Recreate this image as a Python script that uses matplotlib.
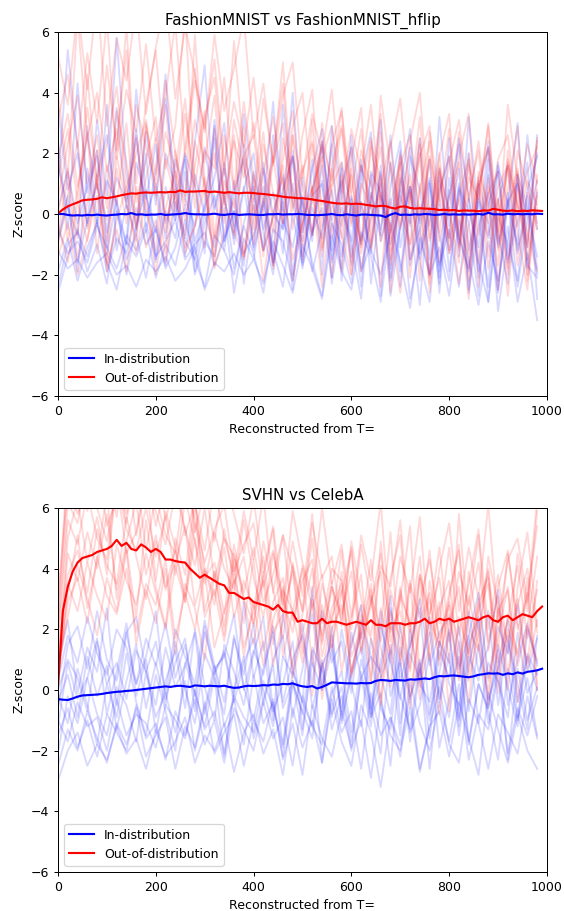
import numpy as np
import matplotlib
matplotlib.use("Agg")
import matplotlib.pyplot as plt

#####################
# DATA
#####################

T_MEAN = np.arange(0, 1000, 10)   # 100 points for the mean curves
T_RUN = np.arange(0, 1000, 20)    # 50 points for the faint per-sample curves

TITLES = ["FashionMNIST vs FashionMNIST_hflip", "SVHN vs CelebA"]
LABELS = ["In-distribution", "Out-of-distribution"]

# --- panel 1 ---
TOP_ID_MEAN = [
    0.0, 0.0, -0.03, -0.05, -0.04, -0.05, -0.03, -0.04, -0.02, -0.04,
    -0.05, -0.03, -0.02, 0.0, -0.01, 0.03, -0.02, -0.01, -0.03, -0.02,
    -0.02, 0.0, -0.03, -0.02, -0.01, 0.0, 0.03, 0.0, -0.01, -0.01,
    -0.02, -0.01, 0.01, -0.02, -0.03, -0.01, 0.0, -0.03, -0.02, -0.01,
    -0.02, -0.03, -0.03, -0.01, -0.01, 0.0, -0.02, -0.01, -0.01, 0.0,
    -0.01, -0.03, -0.03, -0.04, -0.03, -0.02, 0.0, -0.03, -0.04, -0.01,
    -0.03, -0.05, -0.02, -0.02, -0.03, -0.04, -0.05, -0.1, -0.02, 0.03,
    -0.03, -0.02, -0.03, -0.01, -0.02, 0.0, -0.01, -0.03, -0.02, 0.0,
    -0.02, -0.01, -0.02, -0.01, -0.02, -0.01, 0.0, -0.02, 0.04, -0.01,
    -0.01, -0.02, 0.01, -0.01, 0.0, -0.01, 0.0, -0.01, 0.01, 0.0,
]
TOP_OOD_MEAN = [
    0.02, 0.15, 0.25, 0.32, 0.38, 0.45, 0.47, 0.48, 0.50, 0.55,
    0.52, 0.55, 0.58, 0.62, 0.65, 0.68, 0.67, 0.70, 0.71, 0.70,
    0.71, 0.72, 0.71, 0.73, 0.72, 0.78, 0.73, 0.74, 0.74, 0.75,
    0.76, 0.72, 0.74, 0.72, 0.70, 0.72, 0.70, 0.68, 0.70, 0.70,
    0.69, 0.67, 0.66, 0.64, 0.62, 0.60, 0.57, 0.55, 0.54, 0.52,
    0.52, 0.50, 0.48, 0.45, 0.43, 0.40, 0.37, 0.35, 0.34, 0.35,
    0.33, 0.34, 0.33, 0.30, 0.28, 0.25, 0.27, 0.26, 0.21, 0.18,
    0.24, 0.25, 0.20, 0.18, 0.19, 0.18, 0.17, 0.16, 0.13, 0.14,
    0.12, 0.13, 0.10, 0.12, 0.11, 0.11, 0.09, 0.12, 0.11, 0.17,
    0.14, 0.11, 0.10, 0.12, 0.09, 0.11, 0.10, 0.12, 0.11, 0.10,
]
TOP_ID_RUNS = [
    [-1.2, -1.8, -1.5, -2.1, -1.6, -1.3, -2.0, -1.7, -2.4, -1.5,
     -1.9, -1.4, -2.2, -1.8, -1.1, -2.5, -1.6, -1.9, -1.3, -2.0,
     -1.5, -2.3, -0.9, -1.7, -2.6, -1.0, -1.8, -2.8, -0.7, -1.9,
     -2.5, -0.6, -1.4, -2.9, -0.3, -1.6, -3.1, -0.8, -2.0, -1.1,
     -2.7, -0.2, -1.5, -3.0, -0.9, -2.2, -0.4, -2.9, -1.3, -3.5],
    [-0.5, -1.3, -0.9, -1.6, -0.4, -1.1, -1.8, -0.7, -1.2, -0.3,
     -1.4, -0.9, -0.2, -1.5, -1.0, -0.6, -1.7, -0.8, 0.1, -1.3,
     -0.7, 0.4, -1.6, -0.2, -1.1, 0.6, -1.9, -0.5, 0.8, -1.4,
     0.3, -1.8, -0.1, 1.0, -2.2, -0.4, 0.9, -1.5, 0.2, -2.3,
     1.2, -0.8, -1.9, 0.5, -0.3, -2.6, 0.7, -1.2, 0.1, -2.0],
    [1.0, 5.4, 2.2, -0.3, 3.1, 0.6, 5.8, 1.4, -0.5, 2.7,
     0.3, 3.8, 1.1, -0.8, 2.4, 4.9, 0.2, 1.7, -0.4, 3.3,
     0.8, -1.2, 2.6, 0.1, 4.0, -0.6, 1.5, 2.8, -1.5, 0.9,
     2.2, -0.9, 0.4, 3.1, -1.8, 1.2, -0.3, 2.5, -2.0, 0.7,
     1.9, -1.4, 3.2, -0.1, -2.4, 1.6, 0.3, -1.0, 2.6, -0.5],
    [-2.4, -1.0, -0.6, -1.4, -0.2, -1.9, -0.8, -1.3, 0.2, -1.0,
     -0.5, -1.7, 0.4, -0.9, -1.5, 0.0, -1.1, 0.7, -1.8, -0.3,
     0.9, -1.2, -0.1, 1.3, -2.0, 0.5, -0.7, 1.6, -1.6, 0.2,
     -0.9, 1.8, -2.3, 0.6, -0.4, 2.1, -1.7, 0.0, 1.2, -2.6,
     0.8, -1.0, 2.0, -2.1, 0.3, 1.4, -1.5, -0.2, 1.7, -2.8],
    [0.2, 1.4, -0.3, 0.9, 2.1, -0.6, 1.2, 0.4, 2.5, -0.1,
     1.0, -0.8, 1.8, 0.5, -0.4, 2.2, 0.1, 1.5, -1.0, 0.8,
     2.0, -0.5, 0.7, -1.3, 1.9, 0.3, -0.9, 2.4, -0.2, 1.1,
     -1.4, 1.6, 0.2, -0.7, 2.6, -1.1, 0.9, -0.3, 1.8, -1.9,
     0.6, 2.3, -1.2, 0.4, -0.8, 1.7, -1.6, 1.0, 0.0, 2.0],
    [-0.8, 0.6, -1.9, 1.5, -0.4, 3.6, -1.2, 0.3, -0.7, 2.0,
     -1.6, 0.9, -0.2, 1.8, -1.3, 0.4, 2.9, -0.9, 0.1, -1.7,
     1.4, -0.6, -2.0, 0.8, 1.9, -1.4, 0.2, -0.8, 2.3, -2.2,
     0.5, -1.0, 1.3, -2.7, 0.9, 2.4, -1.5, -0.5, 1.1, -2.1,
     2.5, -0.7, -1.8, 1.0, -2.9, 0.4, 1.6, -1.3, 0.8, 1.9],
    [3.5, 0.8, 2.0, -0.4, 1.3, 2.6, 0.1, -1.0, 1.7, 0.5,
     2.3, -0.3, 0.6, 1.9, -0.9, 0.2, 1.2, 3.0, -0.6, 0.9,
     -1.1, 1.5, 0.0, -0.5, 2.1, -1.8, 0.6, 1.0, -1.2, 1.7,
     0.2, -2.4, 1.4, 0.7, -1.0, 0.3, 2.2, -1.3, -0.2, 1.5,
     -1.9, 0.9, 0.1, -1.1, 2.4, -0.6, -2.3, 1.3, 0.2, -1.4],
    [-1.9, -0.8, -2.2, -1.1, -0.3, -1.6, -2.5, -0.9, -1.4, -0.5,
     -2.1, -1.0, -1.7, -0.2, -1.5, -2.4, -0.7, -1.2, -2.0, -0.4,
     -1.3, -2.6, -0.5, -0.9, -2.2, 0.1, -1.6, -2.7, -0.3, -1.0,
     -2.3, 0.4, -1.2, -2.0, -0.6, 0.8, -2.8, -1.1, 0.2, -1.7,
     -0.5, -2.4, 0.5, -1.6, -2.9, -0.1, -1.0, -2.2, 0.6, -1.8],
    [2.4, -0.5, 4.3, 0.7, 1.9, -1.1, 3.5, 0.2, 2.8, -0.6,
     1.5, 4.6, -0.2, 2.0, 0.9, -1.3, 3.1, 0.5, -0.8, 2.3,
     0.0, 1.7, -1.6, 3.6, 0.4, -0.9, 1.8, -2.0, 2.9, 0.6,
     -1.7, 1.2, 2.7, -0.9, 0.5, -2.4, 1.9, 0.8, -1.5, 3.2,
     -0.4, 1.5, -2.6, 0.9, 2.2, -1.0, 0.3, 3.0, -1.8, 0.7],
    [-0.9, 0.3, -1.6, -0.2, 1.0, -1.3, 0.5, -2.0, -0.4, 0.8,
     -1.5, 0.1, -0.8, 1.4, -1.9, -0.3, 0.6, -1.2, 1.1, -2.3,
     -0.1, 0.9, -1.7, 0.4, -2.5, 1.2, -0.6, 0.2, -2.1, 1.5,
     -1.0, -2.8, 0.7, -0.5, 1.7, -1.9, 0.0, -3.0, 1.0, -0.7,
     -2.2, 0.8, -0.3, -2.7, 1.3, -1.1, 0.5, -2.4, -0.2, 1.1],
    [1.6, 0.2, -0.7, 2.9, -0.3, 1.1, 0.4, -1.0, 4.1, 0.6,
     -0.6, 2.0, 0.9, -1.4, 1.3, 0.0, 2.5, -0.9, 0.7, 1.8,
     -1.2, 0.3, 3.7, -0.5, 1.0, -1.6, 0.8, 2.3, -0.3, -1.8,
     2.6, 0.1, -1.3, 1.6, -2.1, 0.9, 2.8, -0.6, -2.0, 1.2,
     -0.8, 2.5, 0.6, -1.9, 1.8, -2.5, 0.4, 1.0, -1.1, 2.6],
    [-2.6, -1.4, -0.5, -1.9, -1.0, -2.3, 0.1, -1.5, -0.7, -2.1,
     -0.4, -1.8, -1.1, 0.3, -2.0, -0.9, -1.4, 0.2, -2.6, -0.8,
     -1.5, 0.5, -1.2, -2.4, 0.0, -1.7, -0.6, 1.1, -2.3, -0.2,
     0.6, -1.9, -1.0, 1.4, -2.7, -0.5, 0.9, -1.6, -2.9, 0.3,
     -1.2, 1.0, -2.5, -0.4, 0.7, -3.2, -0.9, 1.3, -1.7, -2.1],
]
TOP_OOD_RUNS = [
    [3.1, 4.6, 2.2, 5.3, 3.0, 6.4, 1.8, 4.1, 2.7, 5.6,
     2.4, 3.9, 6.3, 1.9, 4.4, 2.8, 5.1, 1.6, 3.7, 2.2,
     4.5, 1.3, 3.2, 0.8, 2.9, 4.0, 0.6, 2.4, 1.1, 3.5,
     -0.4, 2.1, 0.9, 3.3, -0.8, 1.6, 2.6, -0.2, 1.9, 0.3,
     2.8, -1.1, 1.2, 0.5, 3.0, -0.6, 1.7, 0.2, 2.3, 1.0],
    [-0.6, 1.2, -1.5, 0.4, 2.1, -0.9, 1.5, -0.3, 2.6, 0.1,
     -1.2, 1.8, 0.5, -0.7, 2.4, 0.9, -1.4, 1.1, 0.2, 2.9,
     -0.5, 1.4, -1.8, 0.7, 1.9, -1.0, 0.4, 2.2, -0.8, 1.3,
     -1.6, 0.8, 2.5, -0.9, 0.3, 1.7, -2.1, 1.0, -0.4, 2.0,
     -1.3, 0.6, 1.8, -2.4, 0.9, -0.2, 1.5, -1.7, 0.7, -0.5],
    [1.2, 2.8, 0.4, 3.5, 1.1, 2.3, 4.2, 0.9, 2.0, 3.1,
     0.6, 2.7, 1.4, 3.8, 0.2, 2.1, 1.5, 4.5, 0.8, 1.9,
     2.6, 0.1, 1.7, 3.0, -0.5, 1.4, 2.4, 0.3, 1.0, 2.8,
     -0.3, 1.6, 0.5, 2.2, -1.2, 1.3, 0.2, 2.5, -0.9, 0.8,
     1.9, -0.7, 0.6, 2.1, -1.4, 0.9, 1.6, -0.4, 1.1, 0.3],
    [5.2, 3.6, 6.8, 4.1, 7.3, 2.9, 5.8, 4.4, 6.9, 3.3,
     5.5, 7.1, 3.8, 6.2, 4.6, 2.7, 5.9, 3.4, 4.8, 6.5,
     2.5, 4.3, 1.6, 3.9, 5.0, 1.2, 3.3, 2.0, 4.1, 0.7,
     2.8, 1.4, 3.6, 0.2, 2.2, 3.8, 0.5, 1.9, 2.9, -0.6,
     1.7, 3.1, 0.4, 2.4, -0.3, 1.8, 2.6, 0.0, 1.4, 2.2],
    [-1.4, -0.3, -2.0, -0.8, 0.6, -1.7, -0.5, -1.9, 0.9, -1.1,
     -0.2, -1.6, 0.8, -1.3, -0.4, 1.2, -1.8, -0.6, 0.5, -1.5,
     0.3, -1.2, -0.1, 1.6, -2.2, -0.3, 0.9, -1.4, 1.5, -0.7,
     -2.0, 0.4, -1.1, 1.3, -0.5, -2.6, 0.7, -0.9, 1.8, -1.6,
     0.2, -2.3, -0.4, 1.1, -1.8, 0.5, -2.7, 0.8, -0.6, -1.9],
    [0.5, 2.3, 3.9, 1.0, 2.6, 0.2, 3.4, 1.7, -0.4, 2.9,
     1.3, 3.6, 0.1, 2.2, 4.8, 0.7, 2.0, -0.3, 3.1, 1.5,
     0.4, 2.7, -0.6, 1.8, 3.4, 0.0, 2.3, -1.1, 1.6, 2.9,
     0.6, -1.0, 2.4, 1.1, -1.7, 2.0, 0.4, 3.2, -0.8, 1.5,
     0.0, 2.7, -1.3, 1.2, 2.2, -0.9, 0.8, 2.9, -1.5, 0.6],
    [0.0, 1.5, -0.8, 4.6, 0.9, -0.2, 2.3, 5.4, 0.4, 1.8,
     3.2, -0.6, 1.4, 0.3, 5.9, 1.1, -0.9, 2.6, 0.8, 3.7,
     1.2, -1.4, 2.0, 4.3, 0.1, 1.6, -0.7, 3.0, 0.6, -1.9,
     1.8, 3.5, -1.2, 0.9, 2.4, -0.4, 1.3, -2.2, 2.7, 0.5,
     -0.8, 1.9, 3.3, -1.6, 0.7, 1.4, -2.0, 2.1, 0.9, -0.3],
    [2.0, -0.9, 0.8, 2.7, -1.3, 1.6, 0.3, 3.0, -0.5, 1.2,
     2.5, -0.2, 0.9, 3.3, 1.0, -1.1, 2.8, 0.4, -0.7, 1.9,
     -1.0, 2.3, 0.7, -0.3, 2.6, -1.5, 0.8, 1.9, -2.1, 0.5,
     2.2, -1.3, 0.6, -2.4, 1.7, 0.1, -1.0, 2.0, -2.6, 1.1,
     -0.9, 0.5, -2.2, 1.4, 0.3, -1.7, 2.1, -0.6, -2.5, 1.3],
    [4.0, 1.2, 6.5, 2.5, 0.8, 4.9, 2.1, 6.2, 1.0, 3.6,
     5.4, 1.5, 2.9, 6.6, 0.9, 3.2, 4.5, 1.3, 5.7, 2.0,
     0.5, 3.8, 1.7, 5.0, 0.2, 2.6, 4.1, -0.4, 2.3, 3.4,
     0.7, 2.8, -0.9, 3.9, 1.5, -0.5, 2.4, 4.0, 0.0, 1.9,
     3.3, -1.2, 1.6, 0.4, 2.9, -0.8, 3.6, 1.1, -1.0, 2.5],
    [-1.0, 0.6, 2.4, -0.5, 1.1, -1.6, 1.9, 0.3, -0.9, 3.0,
     0.7, -1.3, 2.1, -0.2, 1.6, 3.4, -0.8, 0.5, 2.6, -1.4,
     1.3, 0.0, -1.7, 2.5, 0.8, -0.6, 3.1, -1.2, 0.9, 1.7,
     -2.0, 1.0, 0.2, 2.7, -1.5, 0.6, -0.4, 2.3, -2.3, 1.4,
     0.1, -1.6, 2.0, -0.7, 1.2, -2.5, 1.8, 0.3, -1.1, 2.4],
    [1.8, 3.3, 0.9, 2.5, 4.0, 1.4, 2.8, 0.5, 3.6, 2.2,
     1.0, 4.4, 2.0, 0.6, 3.1, 1.7, 3.9, 0.3, 2.4, 1.2,
     3.0, 0.4, 1.9, -0.3, 2.6, 0.9, -0.7, 1.8, 2.9, -0.4,
     1.3, -1.1, 2.2, 0.5, -0.6, 1.9, -1.5, 0.8, 2.4, -0.9,
     0.6, 1.7, -1.8, 0.9, 2.1, -1.2, 0.2, 1.5, -2.0, 0.8],
    [-0.3, -1.6, 0.4, -0.9, 1.3, -1.9, -0.2, 0.9, -1.3, 0.6,
     -2.0, 0.2, 1.4, -1.1, -0.4, 0.8, -1.7, 1.6, -0.6, -1.4,
     0.5, -2.2, 0.1, 1.2, -1.5, -0.3, 0.9, -2.4, 0.4, -0.8,
     1.5, -1.9, -0.1, 0.7, -2.6, 1.1, -1.0, 0.3, -2.1, 1.6,
     -1.3, 0.0, -2.8, 1.2, -0.7, 0.5, -1.8, 1.4, -2.2, 0.2],
]

# --- panel 2 ---
BOT_ID_MEAN = [
    -0.3, -0.32, -0.33, -0.28, -0.22, -0.18, -0.17, -0.16, -0.15, -0.13,
    -0.1, -0.08, -0.06, -0.05, -0.03, -0.02, 0.0, 0.02, 0.04, 0.06,
    0.08, 0.1, 0.12, 0.1, 0.13, 0.14, 0.12, 0.1, 0.15, 0.14,
    0.12, 0.14, 0.13, 0.12, 0.14, 0.1, 0.07, 0.08, 0.12, 0.14,
    0.13, 0.14, 0.16, 0.15, 0.18, 0.17, 0.2, 0.19, 0.22, 0.16,
    0.12, 0.1, 0.13, 0.05, 0.1, 0.17, 0.25, 0.24, 0.23, 0.22,
    0.22, 0.21, 0.23, 0.22, 0.23, 0.3, 0.33, 0.32, 0.3, 0.33,
    0.32, 0.31, 0.35, 0.34, 0.36, 0.38, 0.36, 0.42, 0.46, 0.45,
    0.47, 0.48, 0.46, 0.44, 0.42, 0.45, 0.5, 0.52, 0.55, 0.54,
    0.55, 0.5, 0.55, 0.52, 0.58, 0.54, 0.6, 0.62, 0.65, 0.7,
]
BOT_OOD_MEAN = [
    0.1, 2.6, 3.4, 3.9, 4.2, 4.35, 4.4, 4.45, 4.55, 4.6,
    4.65, 4.75, 4.95, 4.75, 4.85, 4.65, 4.6, 4.8, 4.7, 4.55,
    4.65, 4.55, 4.3, 4.3, 4.25, 4.22, 4.2, 4.0, 3.85, 3.7,
    3.8, 3.7, 3.6, 3.5, 3.45, 3.2, 3.2, 3.1, 3.0, 3.05,
    2.9, 2.85, 2.8, 2.75, 2.65, 2.8, 2.6, 2.55, 2.55, 2.25,
    2.3, 2.25, 2.2, 2.2, 2.35, 2.2, 2.25, 2.25, 2.2, 2.15,
    2.2, 2.25, 2.2, 2.15, 2.3, 2.15, 2.15, 2.1, 2.2, 2.2,
    2.2, 2.15, 2.2, 2.2, 2.25, 2.35, 2.2, 2.25, 2.35, 2.3,
    2.35, 2.25, 2.3, 2.35, 2.4, 2.35, 2.3, 2.4, 2.45, 2.3,
    2.25, 2.4, 2.45, 2.3, 2.4, 2.5, 2.45, 2.4, 2.6, 2.75,
]
BOT_ID_RUNS = [
    [0.3, 1.8, 0.9, 2.4, 1.2, 0.5, 2.0, 1.4, 0.2, 1.7,
     0.8, 2.2, 0.4, 1.5, -0.2, 1.9, 0.7, 1.1, 2.5, 0.0,
     1.3, 0.5, 2.1, -0.4, 1.0, 1.8, 0.2, 2.6, 0.9, 1.6,
     -0.1, 2.3, 1.1, 0.6, 2.7, 0.3, 1.5, 3.0, 0.8, 1.9,
     2.4, 0.7, 1.8, 3.2, 0.4, 2.1, 1.2, 2.8, 0.6, 1.7],
    [-1.5, -0.6, -1.9, -1.0, -2.2, -0.8, -1.4, -2.0, -0.5, -1.6,
     -1.1, -2.3, -0.7, -1.5, -0.3, -1.8, -1.0, -2.4, -0.6, -1.3,
     -2.0, -0.4, -1.6, -0.9, -2.5, -0.2, -1.2, -1.8, 0.1, -1.4,
     -0.7, -2.6, -0.1, -1.5, -0.9, -2.2, 0.3, -1.1, -2.0, -0.4,
     -1.7, 0.2, -2.3, -0.8, -1.3, 0.5, -2.1, -0.6, -1.5, -0.2],
    [-0.4, 0.5, -0.9, 1.1, -0.2, 0.8, -1.3, 0.3, 1.5, -0.6,
     0.9, -0.5, 1.6, 0.0, -1.1, 1.2, 0.4, -0.8, 1.8, 0.1,
     -1.0, 0.7, 1.9, -0.6, 0.3, -1.5, 1.4, 0.6, -0.9, 2.0,
     0.2, -1.2, 1.7, 0.5, -0.8, 2.2, -0.3, 1.0, -1.6, 1.3,
     0.4, 2.1, -0.7, 1.5, -1.1, 0.8, 2.3, -0.4, 1.1, 0.0],
    [-3.0, -2.0, -1.4, -2.5, -1.8, -2.3, -1.2, -2.1, -1.6, -2.6,
     -1.3, -2.2, -1.7, -0.9, -2.4, -1.5, -2.0, -1.1, -2.7, -1.4,
     -0.8, -2.1, -1.3, -2.8, -0.6, -1.9, -1.0, -2.4, -0.3, -1.7,
     -2.5, -0.5, -1.4, -3.2, -0.9, -1.8, -0.2, -2.6, -1.2, -0.7,
     -2.2, -0.4, -1.6, -2.8, -0.1, -1.3, -2.4, -0.8, -2.0, -2.6],
    [0.8, 2.3, -0.1, 1.4, 0.6, 2.7, -0.5, 1.9, 0.2, 1.1,
     2.6, -0.3, 0.9, 1.7, -0.7, 2.1, 0.5, 1.3, -0.2, 2.9,
     0.4, 1.6, -1.0, 2.5, 0.7, -0.4, 3.4, 0.1, 1.8, -0.8,
     1.5, 2.8, -0.6, 0.9, 3.1, -1.1, 1.2, 0.3, 2.4, -0.3,
     1.9, -0.9, 2.6, 0.6, 1.4, 3.3, -0.5, 1.0, 2.2, 0.8],
    [-2.1, -0.2, -1.1, 0.4, -0.8, -1.5, 0.1, -0.5, -1.7, 0.6,
     -0.9, -0.1, -1.4, 0.3, -2.0, -0.6, 0.8, -1.2, -0.3, -1.8,
     0.5, -1.1, -0.4, -2.2, 0.2, -0.7, -1.6, 1.0, -1.3, -0.2,
     -2.0, 0.6, -0.9, -0.1, -2.5, 0.9, -1.4, -0.5, 1.2, -1.9,
     -0.3, 1.1, -1.8, 0.2, -0.7, -2.3, 0.7, -1.0, 0.4, -1.5],
    [0.0, 1.0, 0.4, -0.7, 1.6, 0.2, 0.9, -0.3, 1.3, 0.6,
     -0.5, 1.4, 0.1, 0.8, 1.9, -0.8, 0.6, 1.2, -0.4, 0.9,
     1.7, 0.0, -1.2, 1.1, 0.5, 2.2, -0.6, 0.8, 1.5, -1.0,
     0.7, 1.9, -0.8, 0.4, 1.3, -1.5, 2.0, 0.2, -0.4, 1.6,
     0.9, -1.2, 1.5, 2.4, -0.3, 0.7, 1.8, -0.9, 1.2, 0.5],
    [-1.0, -1.7, -0.4, -1.2, -0.9, -2.0, -0.3, -1.5, -0.8, -1.1,
     -1.9, -0.5, -1.0, -1.6, 0.0, -1.3, -0.7, -2.1, -0.2, -0.9,
     -1.4, 0.3, -0.6, -1.8, 0.6, -0.4, -1.2, 0.9, -0.8, 0.1,
     -1.7, 0.4, 1.1, -0.6, -1.3, 1.4, -0.2, 0.7, -1.0, 1.6,
     0.2, -0.5, 1.8, -1.1, 0.9, 0.3, -0.9, 1.9, -0.1, 0.6],
    [-0.6, 1.5, 2.1, 0.7, 2.6, 1.0, 0.3, 1.9, 2.4, 0.6,
     1.6, -0.1, 2.0, 1.1, 0.2, 2.3, 0.8, -0.4, 1.7, 0.5,
     2.2, -0.5, 1.0, 1.8, -0.9, 0.7, 2.5, 0.0, 1.3, -0.7,
     1.9, 0.4, -1.2, 2.1, 0.9, -0.3, 1.4, 2.7, -0.8, 0.6,
     2.0, -1.0, 1.1, 0.3, 2.6, -0.5, 1.6, 0.2, -1.3, 1.8],
    [-2.5, -1.3, -2.0, -0.7, -1.6, -2.4, -1.1, -1.8, -0.6, -2.2,
     -1.5, -0.9, -2.6, -1.2, -1.9, -0.4, -2.1, -1.4, -0.8, -2.5,
     -1.0, -1.7, -0.3, -2.3, -1.1, -2.8, -0.5, -1.6, -2.2, -0.7,
     -1.9, -1.0, -2.9, -0.4, -1.5, -2.0, -0.6, -2.7, -1.2, 0.1,
     -1.8, -2.4, -0.3, -1.1, -2.6, -0.8, -1.4, -2.1, -0.2, -1.6],
    [-1.2, 0.9, -0.3, 0.4, 1.7, -0.8, 0.6, 2.2, -0.2, 1.0,
     -1.4, 0.3, 1.3, -0.6, 2.0, 0.1, -1.0, 1.5, 0.6, -0.5,
     1.2, 2.4, -0.7, 0.2, 1.6, -1.3, 0.9, 0.0, 2.1, -1.1,
     0.5, 1.4, -0.9, 2.6, -0.2, 1.0, -1.7, 0.7, 1.9, -0.4,
     1.2, -1.5, 0.8, 2.3, -0.6, 1.5, 0.1, -1.2, 2.0, 0.9],
    [-0.2, -1.1, 0.7, -0.5, -1.8, 0.2, -0.9, 1.2, -0.4, -1.5,
     0.5, -0.7, -2.0, 0.9, -0.1, -1.2, 0.4, -2.2, 0.0, 1.1,
     -1.6, -0.3, 0.8, -1.9, 0.3, -0.8, 1.3, -2.4, -0.1, 0.6,
     -1.4, 1.0, -0.5, -2.1, 1.5, -0.2, -1.3, 0.9, -2.6, 0.4,
     -0.9, 1.6, -1.7, 0.2, -0.6, 1.3, -2.3, 0.7, -1.0, 0.1],
]
BOT_OOD_RUNS = [
    [3.0, 6.8, 7.5, 5.9, 8.1, 6.4, 7.2, 5.5, 7.9, 6.1,
     7.4, 5.6, 6.9, 8.0, 5.2, 6.6, 4.9, 7.1, 5.8, 4.5,
     6.3, 3.9, 5.4, 2.8, 5.9, 4.2, 3.1, 6.0, 3.5, 4.8,
     2.4, 5.1, 3.6, 6.2, 2.0, 4.4, 3.2, 5.7, 1.8, 4.0,
     5.5, 2.6, 4.7, 3.0, 6.1, 2.2, 4.3, 5.0, 2.9, 6.3],
    [0.8, 4.5, 3.6, 5.2, 4.0, 5.8, 3.3, 4.9, 6.2, 3.8,
     5.1, 3.4, 4.6, 2.9, 5.5, 3.7, 4.2, 2.5, 4.8, 3.0,
     2.2, 3.9, 1.5, 3.3, 2.6, 0.9, 3.0, 1.8, 3.6, 0.6,
     2.4, 3.8, 0.3, 2.7, 1.2, 3.4, -0.2, 2.1, 3.0, 0.8,
     2.9, 1.5, -0.4, 2.6, 3.5, 0.5, 2.0, 1.1, 3.7, 0.2],
    [1.5, 5.6, 4.8, 6.5, 5.0, 4.3, 6.9, 5.3, 4.6, 6.0,
     4.4, 5.7, 3.8, 6.3, 4.9, 3.5, 5.2, 4.0, 3.3, 5.6,
     3.7, 2.4, 4.5, 3.0, 1.9, 4.1, 2.7, 3.8, 1.4, 3.2,
     4.6, 1.7, 2.9, 3.9, 0.9, 3.3, 2.1, 4.4, 1.0, 2.7,
     3.6, 0.8, 2.5, 4.2, 1.6, 3.1, 0.5, 2.8, 4.0, 1.9],
    [0.4, 2.9, 3.7, 2.2, 4.4, 3.1, 2.5, 4.0, 1.9, 3.5,
     2.8, 4.3, 1.7, 3.2, 2.0, 3.9, 1.4, 2.6, 3.6, 1.1,
     2.9, 0.8, 2.3, 3.4, 0.4, 1.9, 3.1, -0.3, 2.0, 2.8,
     0.6, 1.8, 3.3, -0.5, 2.2, 1.0, 3.6, 0.1, 1.5, 2.9,
     -0.7, 2.4, 1.2, 3.0, 0.3, 1.8, 3.4, -0.4, 2.1, 1.0],
    [2.2, 7.0, 5.8, 6.6, 7.7, 5.4, 6.3, 7.4, 5.1, 6.8,
     5.9, 4.8, 6.5, 5.3, 4.1, 6.0, 3.6, 5.0, 4.4, 3.2,
     4.7, 2.9, 3.8, 5.1, 2.3, 3.6, 4.3, 1.6, 3.4, 2.5,
     3.9, 1.3, 2.8, 4.5, 1.9, 2.6, 0.7, 3.8, 2.3, 1.5,
     3.2, 4.6, 1.1, 2.9, 3.7, 0.9, 2.4, 4.1, 1.7, 3.3],
    [0.6, 3.2, 5.1, 2.7, 4.3, 6.5, 3.0, 4.7, 2.4, 5.6,
     3.4, 2.1, 5.0, 3.8, 6.4, 2.6, 3.9, 1.8, 4.5, 2.9,
     1.5, 3.7, 5.3, 1.1, 2.6, 4.0, 0.8, 3.5, 2.2, 4.6,
     1.4, 2.8, 0.2, 4.9, 1.6, 3.0, 5.4, 0.5, 2.5, 3.7,
     0.9, 5.8, 2.0, 1.3, 4.4, 2.7, 0.0, 3.4, 5.2, 2.1],
    [1.0, 3.8, 4.6, 3.2, 5.3, 4.1, 3.5, 5.7, 4.4, 3.0,
     4.9, 3.3, 4.2, 5.4, 2.8, 4.0, 3.1, 4.7, 2.4, 3.6,
     2.7, 4.4, 1.9, 2.5, 3.9, 1.2, 2.8, 0.6, 2.4, 3.3,
     1.1, 2.0, 3.5, 0.4, 2.6, 1.7, -0.6, 2.3, 3.2, 1.0,
     2.5, 0.3, 3.1, 1.4, -0.1, 2.7, 1.6, 3.0, 0.7, 2.3],
    [1.8, 6.2, 5.5, 7.3, 6.0, 4.9, 6.7, 5.8, 7.1, 4.6,
     6.4, 5.1, 4.5, 6.9, 5.6, 4.2, 5.3, 6.1, 3.9, 4.8,
     5.5, 3.4, 4.6, 2.7, 4.9, 3.1, 5.8, 2.2, 4.0, 3.6,
     2.0, 4.8, 2.9, 1.6, 3.7, 5.1, 1.4, 3.0, 4.3, 2.2,
     4.7, 1.8, 3.5, 5.3, 2.0, 3.8, 1.2, 4.5, 2.6, 5.9],
    [0.5, 5.0, 6.3, 4.2, 5.7, 3.8, 6.9, 4.5, 5.2, 7.2,
     3.6, 5.9, 4.7, 3.1, 6.1, 4.0, 2.8, 5.3, 3.5, 4.4,
     2.1, 4.9, 3.3, 1.7, 4.2, 2.6, 5.0, 1.5, 3.4, 2.3,
     4.7, 1.2, 3.1, 2.0, 5.2, 0.8, 3.5, 2.4, 4.6, 1.4,
     3.0, 4.8, 0.6, 2.7, 3.9, 1.3, 4.5, 2.2, 0.9, 3.6],
    [0.2, 3.5, 2.6, 4.2, 3.1, 2.3, 4.8, 3.6, 2.8, 4.5,
     3.2, 2.0, 4.1, 2.9, 5.0, 2.4, 3.3, 1.6, 3.8, 2.2,
     4.3, 1.3, 2.9, 3.7, 0.7, 2.5, 4.0, 1.1, 2.7, 3.5,
     0.5, 2.0, 4.3, 1.4, 0.1, 3.1, 2.2, -0.3, 3.6, 1.7,
     2.8, 0.4, 3.9, 1.9, -0.5, 2.6, 3.3, 0.8, 2.1, 4.4],
    [2.5, 7.6, 6.1, 8.3, 6.9, 7.8, 5.7, 8.0, 6.5, 7.3,
     5.4, 6.8, 7.5, 5.1, 6.2, 4.6, 6.7, 5.0, 3.8, 5.9,
     4.3, 6.4, 3.2, 5.1, 4.0, 2.6, 5.5, 3.7, 4.4, 2.1,
     4.9, 3.0, 1.8, 4.1, 3.4, 5.6, 1.9, 3.8, 2.5, 4.7,
     1.6, 3.9, 2.8, 5.1, 1.3, 3.4, 4.6, 2.0, 3.1, 5.4],
    [0.9, 2.4, 4.1, 3.0, 1.8, 3.7, 2.6, 4.6, 1.5, 3.3,
     2.2, 4.0, 1.2, 3.5, 2.7, 1.0, 3.9, 2.1, 4.3, 1.4,
     2.6, 3.6, 0.8, 2.3, 4.1, 1.6, -0.2, 2.8, 1.3, 3.9,
     0.4, 2.5, 1.7, -0.4, 3.3, 2.0, 0.6, 3.7, 1.1, -0.8,
     2.2, 3.4, 0.3, 1.9, 4.0, -0.1, 2.4, 1.2, 3.2, 0.0],
]

PANELS = [
    (TOP_ID_RUNS, TOP_OOD_RUNS, TOP_ID_MEAN, TOP_OOD_MEAN),
    (BOT_ID_RUNS, BOT_OOD_RUNS, BOT_ID_MEAN, BOT_OOD_MEAN),
]

############
# PLOTTING #
############

DPI = 90
fig = plt.figure(figsize=(564 / DPI, 911 / DPI), dpi=DPI)
axes = [
    fig.add_axes([0.1028, 0.5653, 0.867, 0.3996]),
    fig.add_axes([0.1028, 0.0428, 0.867, 0.3996]),
]

for ax, title, (id_runs, ood_runs, id_mean, ood_mean) in zip(axes, TITLES, PANELS):
    for run in id_runs:
        ax.plot(T_RUN, run, color="b", alpha=0.15)
    for run in ood_runs:
        ax.plot(T_RUN, run, color="r", alpha=0.15)

    ax.plot(T_MEAN, id_mean, color="b", lw=1.7, label=LABELS[0])
    ax.plot(T_MEAN, ood_mean, color="r", lw=1.7, label=LABELS[1])

    ax.set_xlim(0, 1000)
    ax.set_ylim(-6, 6)
    ax.set_xticks(range(0, 1001, 200))
    ax.set_yticks(range(-6, 7, 2))
    ax.set_title(title)
    ax.set_ylabel("Z-score")
    ax.set_xlabel("Reconstructed from T=")
    ax.legend(loc="lower left")

fig.savefig("out.png", dpi=DPI)
